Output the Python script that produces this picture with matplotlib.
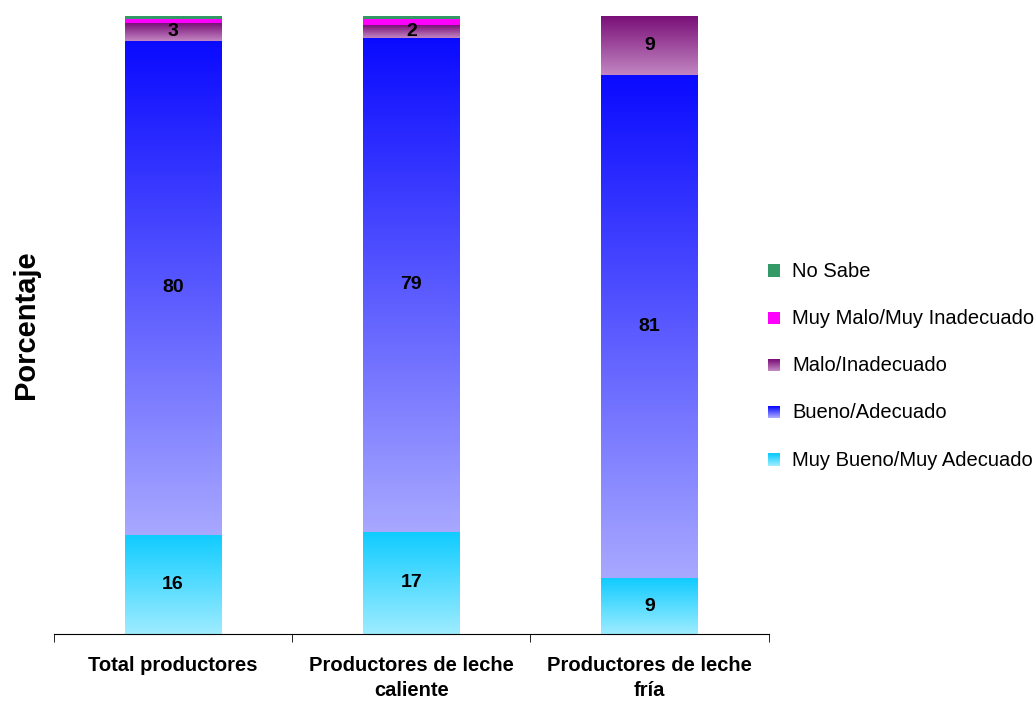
import matplotlib.pyplot as plt
import numpy as np
from matplotlib.colors import LinearSegmentedColormap
from matplotlib.patches import Rectangle
from matplotlib.legend_handler import HandlerBase

plt.rcParams['font.family'] = ['Liberation Sans', 'DejaVu Sans']

categories = ['Total productores', 'Productores de leche\ncaliente', 'Productores de leche\nfría']
series = ['Muy Bueno/Muy Adecuado', 'Bueno/Adecuado', 'Malo/Inadecuado',
          'Muy Malo/Muy Inadecuado', 'No Sabe']
muy_bueno = [16, 16.5, 9]
bueno = [80, 80, 81.5]
malo = [2.9, 2, 9.5]
muy_malo = [0.65, 1, 0]
no_sabe = [0.65, 0.6, 0]
labels = [[16, 17, 9], [80, 79, 81], [3, 2, 9], None, None]

# (top colour, bottom colour) per series
grads = [('#10ccff', '#9eecff'), ('#0a0aff', '#a8a8ff'), ('#7a1078', '#c286c2'),
         ('#ff00ff', '#ff00ff'), ('#339966', '#339966')]

fig = plt.figure(figsize=(10.36, 7.02), dpi=100)
ax = fig.add_axes([0.052, 0.097, 0.690, 0.88])

data = [muy_bueno, bueno, malo, muy_malo, no_sabe]
width = 0.407
x = np.arange(len(categories))
bottom = np.zeros(len(categories))
grad = np.linspace(0, 1, 256).reshape(-1, 1)
for vals, (top, bot), lab in zip(data, grads, labels):
    cmap = LinearSegmentedColormap.from_list('g', [bot, top])
    for i, v in enumerate(vals):
        if v <= 0:
            continue
        ax.imshow(grad, cmap=cmap, origin='lower', aspect='auto',
                  extent=(x[i] - width / 2, x[i] + width / 2, bottom[i], bottom[i] + v),
                  interpolation='bilinear', zorder=2)
        if lab is not None:
            ax.text(x[i], bottom[i] + v / 2, str(lab[i]), ha='center', va='center',
                    fontsize=14, fontweight='bold', zorder=3)
    bottom += np.array(vals)

ax.set_xlim(-0.5, 2.5)
ax.set_ylim(0, 100)
for s in ['top', 'right', 'left']:
    ax.spines[s].set_visible(False)
ax.set_yticks([])
ax.set_xticks(x)
ax.set_xticklabels(categories, fontsize=14.5, fontweight='bold', linespacing=1.38)
ax.tick_params(axis='x', which='major', length=0, pad=16)
ax.set_xticks([-0.5, 0.5, 1.5, 2.5], minor=True)
ax.tick_params(axis='x', which='minor', length=6, direction='out')
ax.set_ylabel('Porcentaje', fontsize=21, fontweight='bold', labelpad=10)


class GradHandler(HandlerBase):
    def __init__(self, top, bot):
        super().__init__()
        self.top, self.bot = top, bot

    def create_artists(self, legend, orig, xd, yd, w, h, fontsize, trans):
        cmap = LinearSegmentedColormap.from_list('g', [self.bot, self.top])
        s = h * 0.85
        x0 = xd + w - s
        n = 12
        arts = []
        for k in range(n):
            r = Rectangle((x0, yd + s * k / n), s, s / n + 0.3,
                          facecolor=cmap(k / (n - 1)), edgecolor='none', transform=trans)
            arts.append(r)
        return arts


handles = []
hmap = {}
for name, (top, bot) in zip(series, grads):
    h = Rectangle((0, 0), 1, 1)
    handles.append(h)
    hmap[h] = GradHandler(top, bot)

fig.legend(handles[::-1], series[::-1], handler_map=hmap, loc='center left',
           bbox_to_anchor=(0.722, 0.479), frameon=False, fontsize=14.5,
           labelspacing=1.4, handlelength=0.7, handletextpad=0.6)

fig.savefig('out.png', dpi=100)
